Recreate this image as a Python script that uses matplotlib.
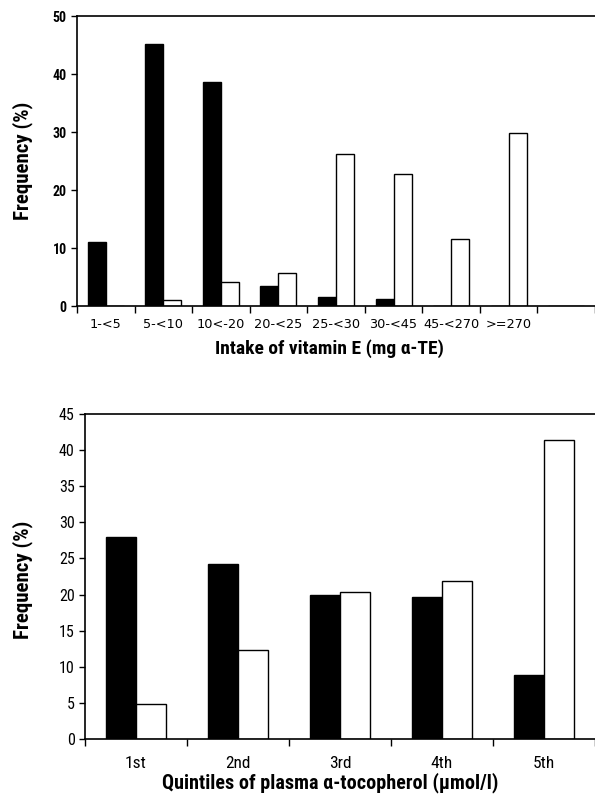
import matplotlib
matplotlib.use("Agg")
import matplotlib.pyplot as plt
import numpy as np

plt.rcParams['font.family'] = ['Liberation Sans Narrow', 'Roboto Condensed', 'Liberation Sans', 'DejaVu Sans']
plt.rcParams['font.stretch'] = 'condensed'

# Top panel data
intake_labels = ["1-<5", "5-<10", "10<-20", "20-<25", "25-<30", "30-<45", "45-<270", ">=270", ""]
intake_black = [11.0, 45.1, 38.7, 3.4, 1.5, 1.2, 0.0, 0.0, 0.0]
intake_white = [0.0, 1.1, 4.1, 5.7, 26.2, 22.8, 11.6, 29.9, 0.0]

# Bottom panel data
quint_labels = ["1st", "2nd", "3rd", "4th", "5th"]
quint_black = [28.0, 24.2, 20.0, 19.6, 8.8]
quint_white = [4.8, 12.3, 20.3, 21.9, 41.4]

fig = plt.figure(figsize=(5.95, 7.99), dpi=100)

def style(ax, n):
    ax.spines['right'].set_visible(False)
    for s in ['top', 'bottom', 'left']:
        ax.spines[s].set_linewidth(1.2)
    ax.set_xlim(-0.5, n - 0.5)
    ax.set_xticks(np.arange(n + 1) - 0.5, minor=False)
    ax.set_xticklabels([])
    ax.tick_params(axis='x', which='major', direction='out', length=5, width=1)
    ax.tick_params(axis='x', which='minor', length=0)
    ax.tick_params(axis='y', direction='out', length=4, width=1)

# Top
ax1 = fig.add_axes([77/595, 1 - 306/799, 1 - 77/595, (306 - 16)/799])
x1 = np.arange(len(intake_labels))
w1 = 0.3125
ax1.bar(x1 - w1/2, intake_black, w1, color='black', edgecolor='black', linewidth=1)
ax1.bar(x1 + w1/2, intake_white, w1, color='white', edgecolor='black', linewidth=1)
ax1.set_ylim(0, 50)
ax1.set_yticks([0, 10, 20, 30, 40, 50])
style(ax1, len(intake_labels))
ax1.set_xticks(x1, minor=True)
ax1.set_xticklabels(intake_labels, minor=True, family='DejaVu Sans', stretch='normal')
ax1.tick_params(axis='x', which='minor', labelsize=9.3, pad=9)
ax1.tick_params(axis='y', labelsize=10)
for lab in ax1.get_yticklabels():
    lab.set_fontweight('bold')
ax1.set_xlabel("Intake of vitamin E (mg α-TE)", fontsize=14, fontweight='bold')
ax1.xaxis.set_label_coords(0.488, -0.115)
ax1.set_ylabel("Frequency (%)", fontsize=15, fontweight='bold')
ax1.yaxis.set_label_coords(-0.085, 0.5)

# Bottom
ax2 = fig.add_axes([85/595, 1 - 739/799, 1 - 85/595, (739 - 414)/799])
x2 = np.arange(len(quint_labels))
w2 = 0.294
ax2.bar(x2 - w2/2, quint_black, w2, color='black', edgecolor='black', linewidth=1)
ax2.bar(x2 + w2/2, quint_white, w2, color='white', edgecolor='black', linewidth=1)
ax2.set_ylim(0, 45)
ax2.set_yticks(np.arange(0, 46, 5))
style(ax2, len(quint_labels))
ax2.set_xticks(x2, minor=True)
ax2.set_xticklabels(quint_labels, minor=True)
ax2.tick_params(axis='x', which='minor', labelsize=12.5, pad=12)
ax2.tick_params(axis='y', labelsize=11.5)
ax2.set_xlabel("Quintiles of plasma α-tocopherol (μmol/l)", fontsize=14.5, fontweight='bold')
ax2.xaxis.set_label_coords(0.48, -0.102)
ax2.set_ylabel("Frequency (%)", fontsize=15, fontweight='bold')
ax2.yaxis.set_label_coords(-0.102, 0.49)

fig.savefig("out.png", dpi=100)
